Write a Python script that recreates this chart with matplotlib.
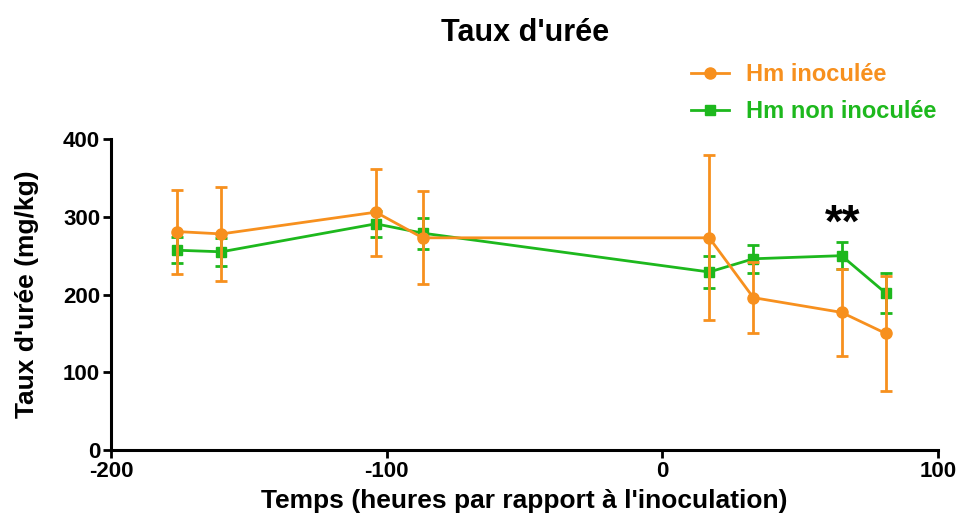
import matplotlib
matplotlib.use("Agg")
import matplotlib.pyplot as plt
from matplotlib.lines import Line2D

plt.rcParams['font.family'] = ['Liberation Sans', 'DejaVu Sans']
plt.rcParams['font.weight'] = 'bold'
plt.rcParams['axes.unicode_minus'] = False

# data
temps = [-176, -160, -104, -87, 17, 33, 65, 81]
inoc = [281, 278, 306, 273, 273, 196, 177, 150]
inoc_err = [54, 61, 56, 60, 106, 46, 56, 74]
non_inoc = [257, 255, 291, 279, 229, 246, 250, 202]
non_inoc_err = [17, 18, 17, 20, 21, 18, 17, 26]

orange = '#F7901E'
green = '#1DB81D'

fig = plt.figure(figsize=(9.67, 5.25), dpi=100)
ax = fig.add_axes([0.115, 0.143, 0.855, 0.592])

ax.errorbar(temps, non_inoc, yerr=non_inoc_err, color=green, marker='s', ms=7,
            lw=2, elinewidth=2, capsize=4, capthick=2, zorder=2)
ax.errorbar(temps, inoc, yerr=inoc_err, color=orange, marker='o', ms=8,
            lw=2, elinewidth=2, capsize=4, capthick=2, zorder=3)

ax.text(65.5, 274, '**', ha='center', va='baseline', fontsize=33, fontweight='bold')

ax.set_xlim(-200, 100)
ax.set_ylim(0, 400)
ax.set_xticks([-200, -100, 0, 100])
ax.set_yticks([0, 100, 200, 300, 400])
for s in ['top', 'right']:
    ax.spines[s].set_visible(False)
for s in ['left', 'bottom']:
    ax.spines[s].set_linewidth(2.2)
ax.tick_params(width=2, length=6, labelsize=16, pad=2)
for lab in ax.get_xticklabels() + ax.get_yticklabels():
    lab.set_fontweight('bold')

ax.set_xlabel("Temps (heures par rapport à l'inoculation)", fontsize=19, fontweight='bold', labelpad=5)
ax.set_ylabel("Taux d'urée (mg/kg)", fontsize=19, fontweight='bold', labelpad=17)
fig.suptitle("Taux d'urée", x=0.543, y=0.965, fontsize=22, fontweight='bold')

handles = [Line2D([], [], color=orange, marker='o', ms=8, lw=2),
           Line2D([], [], color=green, marker='s', ms=7, lw=2)]
labels = ['Hm inoculée', 'Hm non inoculée']
leg = fig.legend(handles, labels, loc='upper left', bbox_to_anchor=(0.693, 0.92),
                 frameon=False, fontsize=17, handlelength=1.6, handletextpad=0.7,
                 labelspacing=0.6)
for t, c in zip(leg.get_texts(), [orange, green]):
    t.set_color(c)
    t.set_fontweight('bold')

fig.savefig('out.png', dpi=100)
